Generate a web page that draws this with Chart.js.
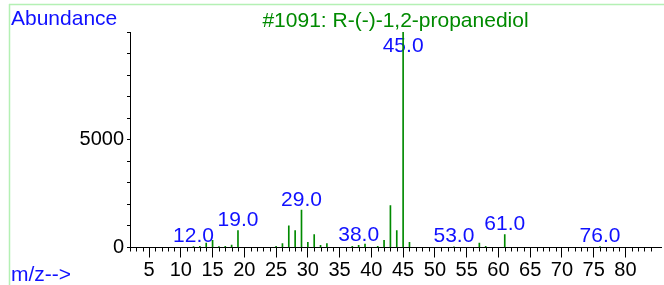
<!DOCTYPE html>
<html><head><meta charset="utf-8">
<script src="https://cdn.jsdelivr.net/npm/chart.js@4/dist/chart.umd.min.js"></script>
<style>html,body{margin:0;padding:0;background:#fff;}#wrap{width:664px;height:285px;position:relative;}</style>
</head><body><div id="wrap"><canvas id="c" width="664" height="285"></canvas></div>
<script>
// ---- data ----
const mz =        [12, 13, 14,  15, 16, 17, 18,  19, 25,  26,   27,  28,   29,  30,  31,  32,  33, 37,  38,  39, 41,  42,   43,  44,    45,  46, 53,  57, 58,  61, 76];
const abundance = [40, 60, 200, 330, 40, 60, 110, 780, 50, 180, 1000, 780, 1740, 240, 600, 100, 180, 50, 100, 160, 60, 330, 1950, 790, 10000, 240, 30, 200, 60, 600, 40];
const labeledPeaks = [12, 19, 29, 38, 45, 53, 61, 76];
const xTickLabels = [5,10,15,20,25,30,35,40,45,50,55,60,65,70,75,80];
const yTickLabels = [0, 5000];
const titleText = '#1091: R-(-)-1,2-propanediol';
const yAxisName = 'Abundance';
const xAxisName = 'm/z-->';
const xMin = 2, xMax = 85.6, yMax = 10000;

const FONT = 'Liberation Sans, Arial, sans-serif';
const GREEN = '#008a00';
const BLUE = '#1010ff';

const decor = {
  id: 'decor',
  beforeDraw(chart) {
    const c = chart.ctx;
    c.save();
    c.strokeStyle = '#b4f0b4';
    c.lineWidth = 1.5;
    c.beginPath();
    c.moveTo(9, 4.5); c.lineTo(664, 4.5);
    c.moveTo(9.5, 4); c.lineTo(9.5, 285);
    c.stroke();
    c.fillStyle = BLUE;
    c.font = '21px ' + FONT;
    c.textAlign = 'left';
    c.textBaseline = 'alphabetic';
    c.fillText(yAxisName, 11, 25);
    c.fillText(xAxisName, 11, 281);
    const area = chart.chartArea;
    c.fillStyle = GREEN;
    c.textAlign = 'center';
    c.fillText(titleText, (area.left + area.right) / 2, 26.5);
    c.restore();
  },
  beforeDatasetsDraw(chart) {
    const c = chart.ctx;
    const xs = chart.scales.x, ys = chart.scales.y;
    c.save();
    c.fillStyle = BLUE;
    c.font = '21px ' + FONT;
    c.textAlign = 'center';
    c.textBaseline = 'alphabetic';
    labeledPeaks.forEach(m => {
      const i = mz.indexOf(m);
      const px = xs.getPixelForValue(m);
      const top = ys.getPixelForValue(abundance[i]);
      const base = Math.max(top - 4.5, ys.top + 20);
      c.fillText(m.toFixed(1), px, base);
    });
    c.restore();
  },
  afterDraw(chart) {
    const c = chart.ctx;
    const xs = chart.scales.x;
    c.save();
    c.strokeStyle = '#000';
    c.lineWidth = 1;
    c.beginPath();
    xs.ticks.forEach(t => {
      if (t.value % 5 !== 0) {
        const px = Math.round(xs.getPixelForValue(t.value)) + 0.5;
        c.moveTo(px, xs.top); c.lineTo(px, xs.top + 4);
      }
    });
    c.stroke();
    c.restore();
  }
};

new Chart(document.getElementById('c'), {
  type: 'bar',
  data: { datasets: [{
    data: mz.map((m, i) => ({ x: m, y: abundance[i] })),
    backgroundColor: GREEN, borderWidth: 0, barThickness: 1, grouped: false
  }]},
  options: {
    responsive: false, animation: false, devicePixelRatio: 1,
    layout: { padding: { left: 0, right: 3, top: 32, bottom: 0 } },
    plugins: { legend: { display: false }, tooltip: { enabled: false }, title: { display: false } },
    scales: {
      x: {
        type: 'linear', min: xMin, max: xMax, offset: false,
        grid: { display: true, drawOnChartArea: false, offset: false, tickLength: 10,
                tickColor: (ctx) => (ctx.tick && xTickLabels.includes(ctx.tick.value)) ? '#000' : 'rgba(0,0,0,0)' },
        border: { display: true, color: '#000', width: 1 },
        ticks: { stepSize: 1, includeBounds: false, autoSkip: false, maxRotation: 0, minRotation: 0,
                 color: '#000', font: { family: FONT, size: 20 }, padding: 1,
                 callback: (v) => xTickLabels.includes(v) ? String(v) : '' },
        afterFit: (s) => { s.height = 37.5; }
      },
      y: {
        min: 0, max: yMax,
        grid: { display: true, drawOnChartArea: false, tickLength: 3, tickColor: '#000' },
        border: { display: true, color: '#000', width: 1 },
        ticks: { stepSize: 1000, autoSkip: false, color: '#000', font: { family: FONT, size: 20 }, padding: 3,
                 callback: (v) => yTickLabels.includes(v) ? String(v) : '' },
        afterFit: (s) => { s.width = 130; }
      }
    }
  },
  plugins: [decor]
});
</script></body></html>
